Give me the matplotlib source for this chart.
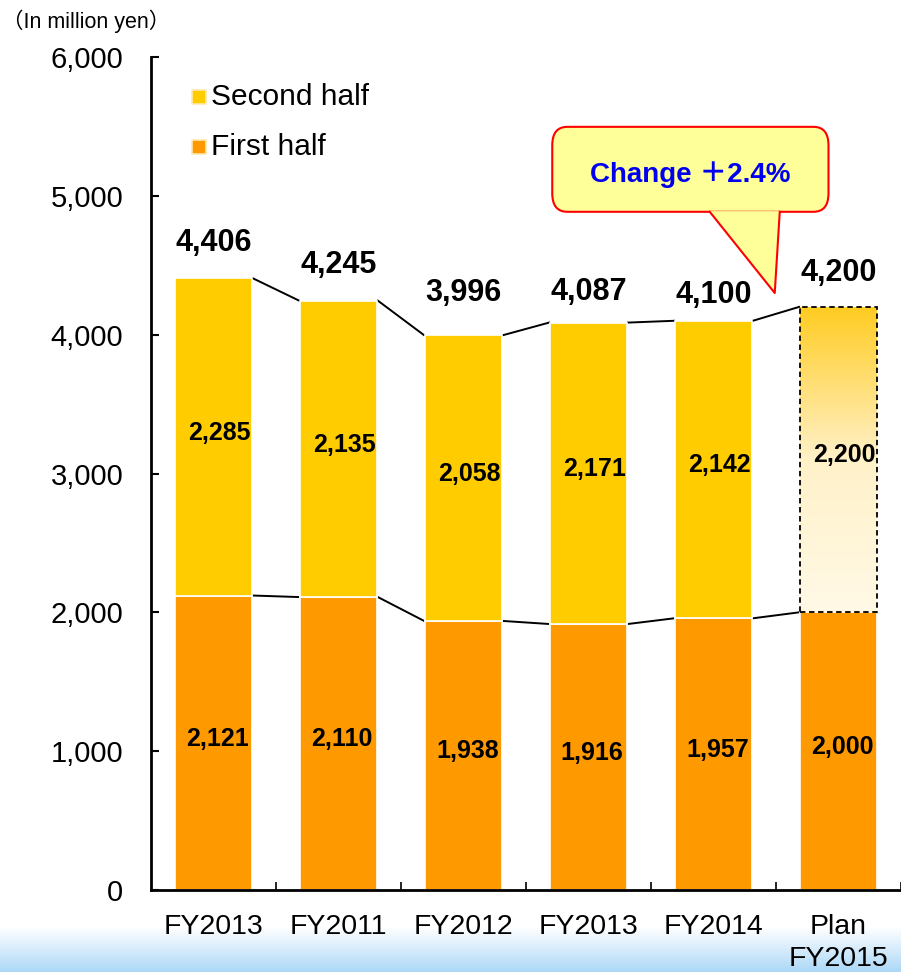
import numpy as np
import matplotlib.pyplot as plt
from matplotlib.patches import FancyBboxPatch, Polygon
from matplotlib.colors import LinearSegmentedColormap

plt.rcParams['font.family'] = ['Liberation Sans', 'Noto Sans CJK JP', 'DejaVu Sans']

years = ["FY2013", "FY2011", "FY2012", "FY2013", "FY2014", "Plan\nFY2015"]
first_half = [2121, 2110, 1938, 1916, 1957, 2000]
second_half = [2285, 2135, 2058, 2171, 2142, 2200]
totals = [4406, 4245, 3996, 4087, 4100, 4200]

# vertical nudges for the total labels (data units above the bar top)
label_dy = [255, 258, 305, 221, 187, 245]

c_first = "#FF9900"
c_second = "#FFCC00"
width = 0.61

fig = plt.figure(figsize=(9.01, 9.72), dpi=100)

# light blue strip along the bottom edge
band = fig.add_axes([0, 0, 1, 44 / 972])
band.imshow(np.linspace(0, 1, 100).reshape(-1, 1), aspect="auto", origin="upper",
            cmap=LinearSegmentedColormap.from_list("b", ["#FFFFFF", "#ACD8F7"]),
            extent=[0, 1, 0, 1])
band.axis("off")

ax = fig.add_axes([151 / 901, 82 / 972, 750 / 901, 833 / 972])
x = np.arange(len(years))

ax.bar(x, first_half, width, color=c_first, edgecolor="white", linewidth=1.2, zorder=2)
ax.bar(x[:-1], second_half[:-1], width, bottom=first_half[:-1], color=c_second,
       edgecolor="white", linewidth=1.2, zorder=2)

# plan bar: second half as a fading gradient with a dashed frame
i = len(years) - 1
grad = LinearSegmentedColormap.from_list("g", ["#FFF9E6", "#FFF1C8", "#FFCC22"])
im = ax.imshow(np.linspace(0, 1, 200).reshape(-1, 1), aspect="auto", origin="lower",
               cmap=grad, extent=[i - width / 2, i + width / 2, first_half[i], totals[i]],
               zorder=2)
frame = ax.bar(i, second_half[i], width, bottom=first_half[i], facecolor="none",
               edgecolor="black", linewidth=1.3, linestyle=(0, (3, 2)), zorder=3)
im.set_clip_path(frame[0])

# connector lines between neighbouring bars
for k in range(len(years) - 1):
    ax.plot([k + width / 2 + 0.01, k + 1 - width / 2 - 0.01], [totals[k], totals[k + 1]],
            color="black", lw=1.4, zorder=1)
    ax.plot([k + width / 2 + 0.01, k + 1 - width / 2 - 0.01], [first_half[k], first_half[k + 1]],
            color="black", lw=1.4, zorder=1)

for k in range(len(years)):
    ax.text(x[k], totals[k] + label_dy[k], f"{totals[k]:,}", ha="center", va="center",
            fontsize=22, fontweight="bold", zorder=4)
    ax.text(x[k] + 0.05, first_half[k] + second_half[k] / 2 + 30, f"{second_half[k]:,}",
            ha="center", va="center", fontsize=18, fontweight="bold", zorder=4)
    ax.text(x[k] + 0.03, first_half[k] / 2 + 30, f"{first_half[k]:,}",
            ha="center", va="center", fontsize=18, fontweight="bold", zorder=4)

# speech bubble
box = FancyBboxPatch((2.71, 4885), 2.21, 612, boxstyle="round,pad=0,rounding_size=0.12",
                     mutation_aspect=1000 / 0.9,
                     facecolor="#FFFF99", edgecolor="#FF0000", linewidth=1.5, zorder=5)
ax.add_patch(box)
tail = [(3.97, 4890), (4.49, 4300), (4.53, 4890)]
ax.add_patch(Polygon(tail, closed=True, facecolor="#FFFF99", edgecolor="none", zorder=6))
ax.plot([3.97, 4.49, 4.53], [4885, 4300, 4885], color="#FF0000", lw=1.5, zorder=6)
ax.text(3.81, 5150, "Change ＋2.4%", ha="center", va="center", fontsize=20,
        fontweight="bold", color="#0000EE", zorder=7)

# legend-like key
for yk, lab, col in [(5710, "Second half", c_second), (5350, "First half", c_first)]:
    ax.scatter([-0.12], [yk], marker="s", s=95, color=col, edgecolor="#FFE9B0",
               linewidths=1.2, zorder=4)
    ax.text(-0.02, yk, lab, ha="left", va="center", fontsize=21.5)

ax.set_xlim(-0.5, 5.44)
ax.set_ylim(0, 6000)
ax.set_xticks(x + 0.5)
ax.set_xticklabels([])
for k, lab in enumerate(years):
    ax.text(x[k], -175, lab, ha="center", va="top", fontsize=20.5, linespacing=1.3)
ax.set_yticks(range(0, 6001, 1000))
ax.set_yticklabels([f"{v:,}" for v in range(0, 6001, 1000)], fontsize=21)
ax.tick_params(axis="y", direction="in", length=6, width=1.5, pad=20)
ax.tick_params(axis="x", direction="in", length=6, width=1.2)
ax.spines["top"].set_visible(False)
ax.spines["right"].set_visible(False)
ax.spines["left"].set_linewidth(2)
ax.spines["bottom"].set_linewidth(2)

fig.text(2 / 901, 1 - 21 / 972, "（In million yen）", ha="left", va="center", fontsize=15.5)

fig.savefig("out.png", dpi=100)
